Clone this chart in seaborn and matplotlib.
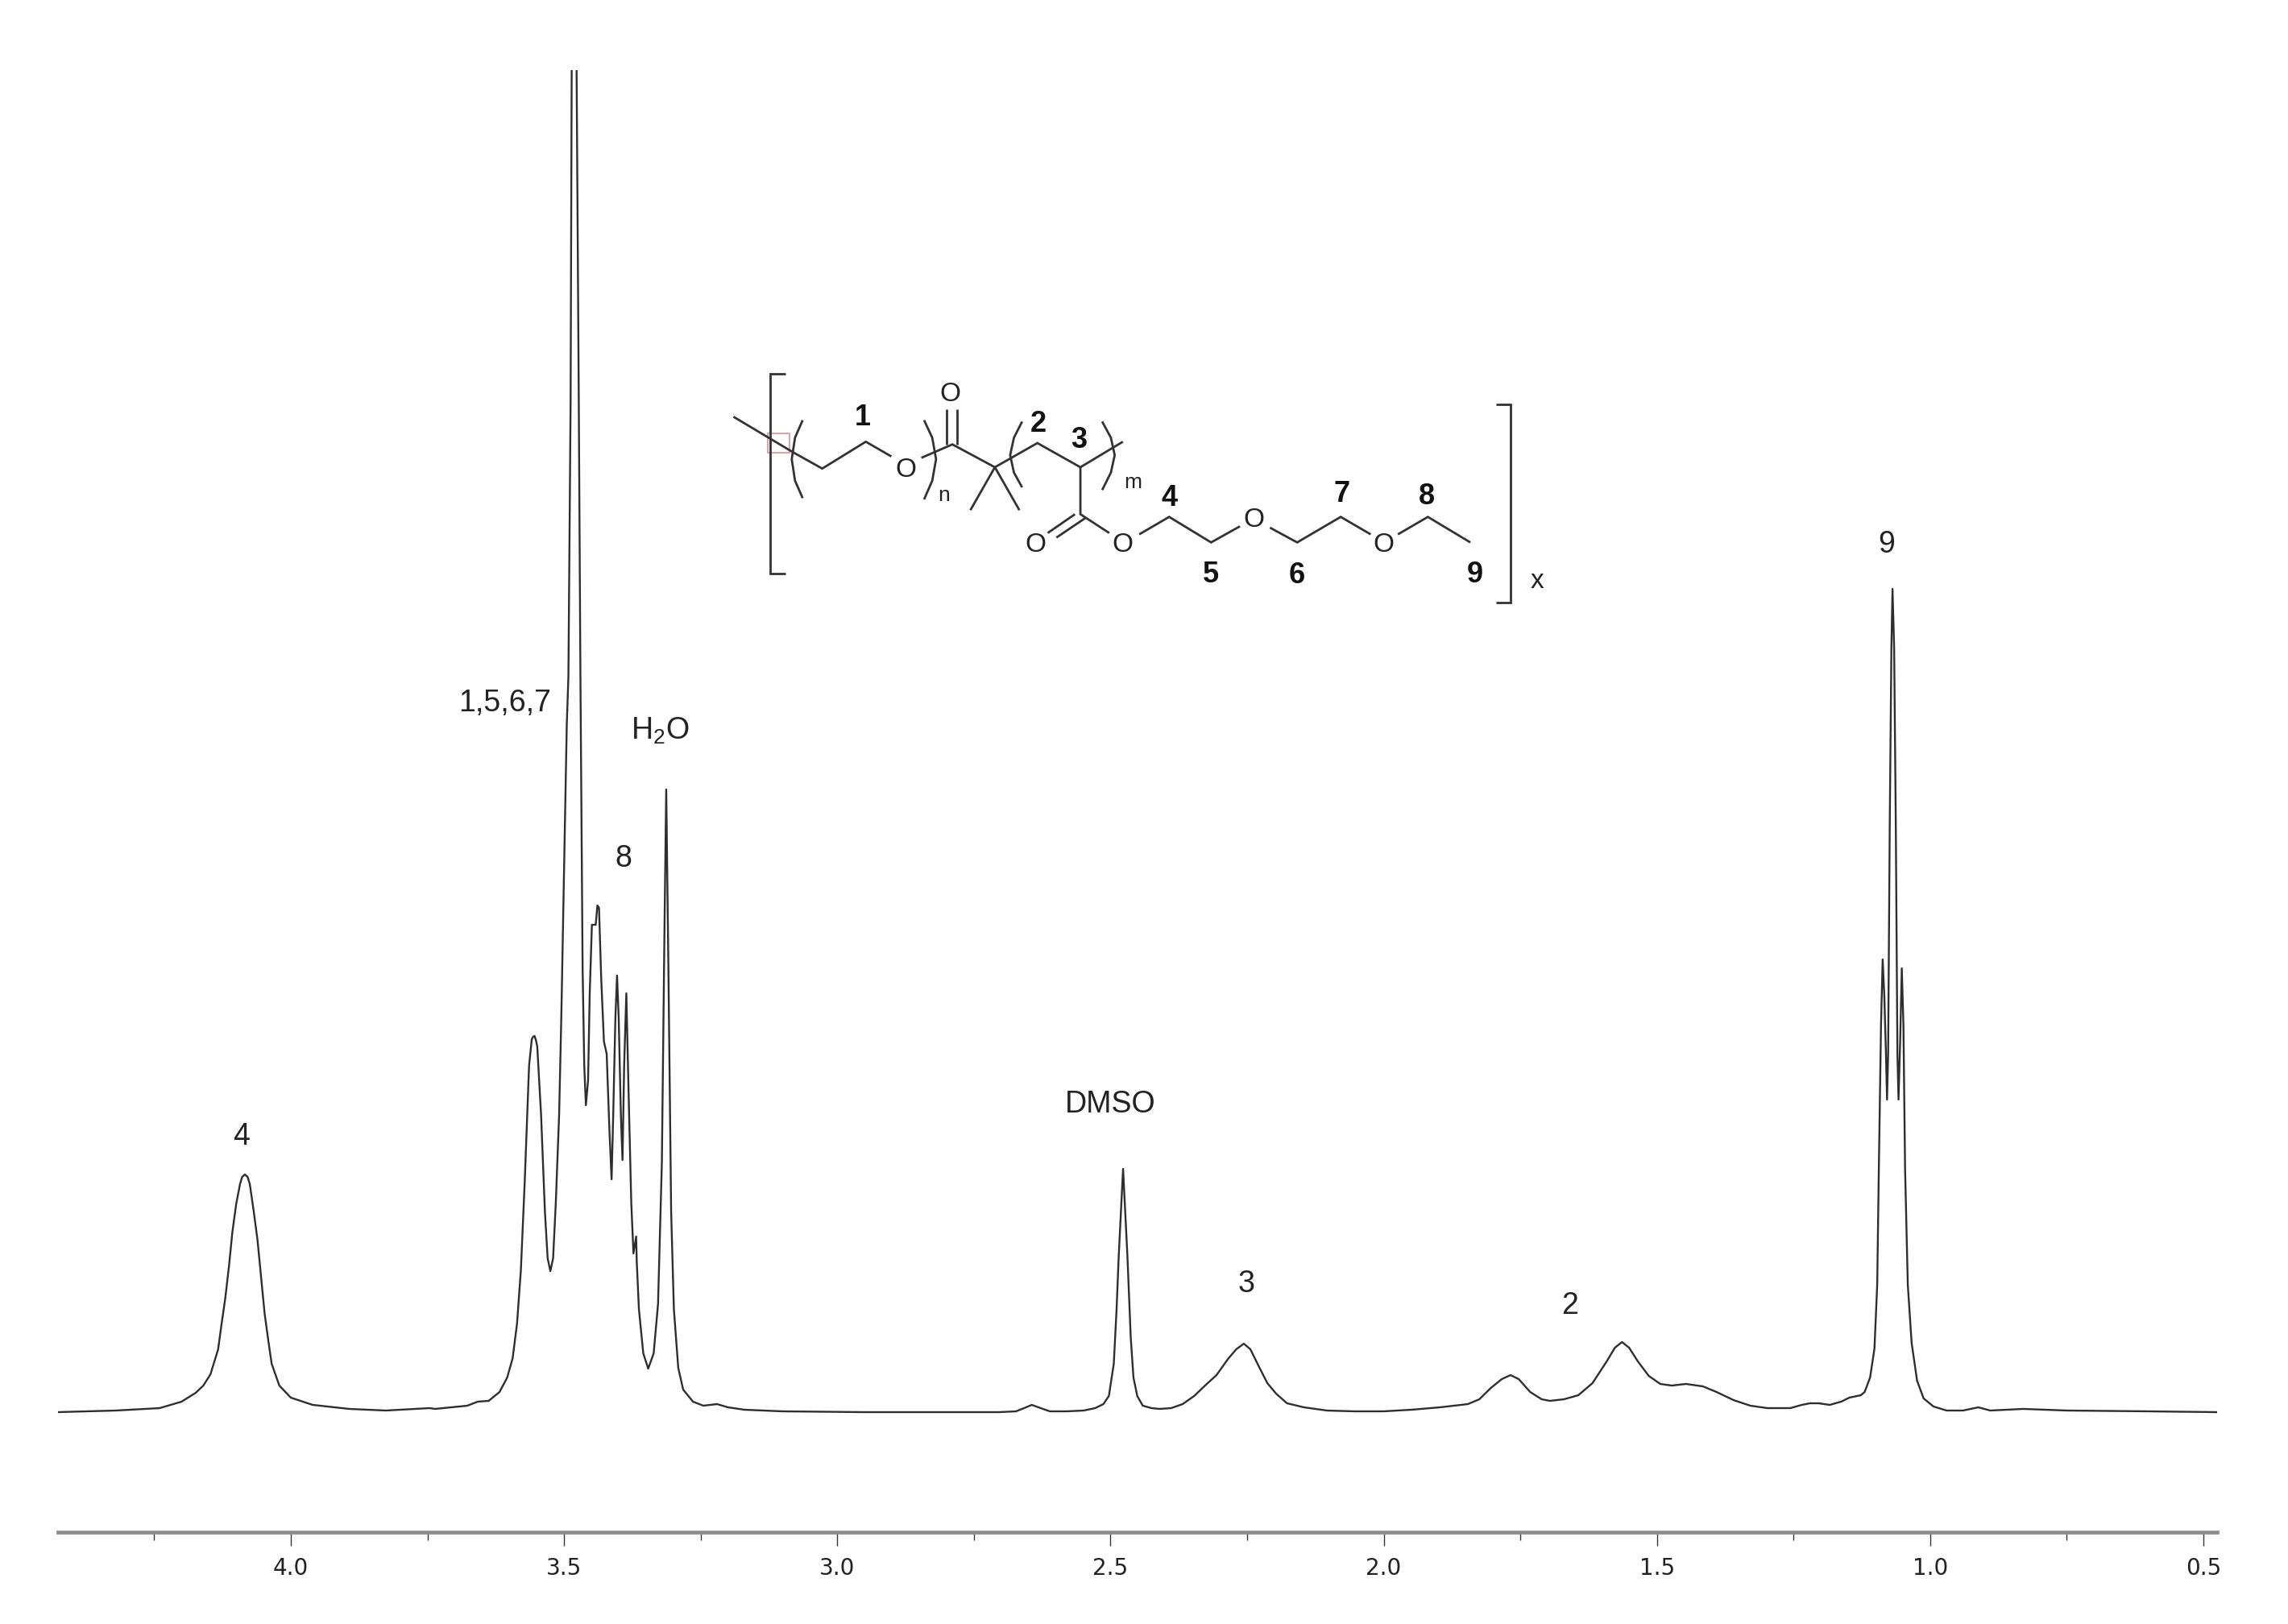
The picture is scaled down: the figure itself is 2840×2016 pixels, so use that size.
import pandas as pd
import matplotlib
matplotlib.use("Agg")
import matplotlib.pyplot as plt
import seaborn as sns
from matplotlib.patches import Rectangle
from matplotlib.ticker import FixedLocator, FixedFormatter

# chemical shift (ppm) and intensity
ppm_left = [4.427, 4.320, 4.240, 4.200, 4.174, 4.160, 4.147, 4.133, 4.127, 4.120, 4.113, 4.107, 4.100,
            4.093, 4.089, 4.084, 4.079, 4.075, 4.068, 4.061, 4.054, 4.048, 4.041, 4.035, 4.021,
            4.000, 3.960, 3.893, 3.826, 3.746]
int_left = [0, 2, 5, 13, 24, 33, 47, 78, 108, 141, 182, 223, 258,
            283, 292, 295, 292, 283, 250, 214, 165, 123, 88, 60, 33,
            18, 9, 4, 2, 5]

ppm_mid = [3.736, 3.707, 3.677, 3.658, 3.638, 3.618, 3.604, 3.594, 3.586, 3.579, 3.572, 3.564,
           3.559, 3.5565, 3.554, 3.5515, 3.549, 3.542, 3.535, 3.530, 3.525, 3.520, 3.515, 3.509,
           3.505, 3.500, 3.495, 3.492, 3.488, 3.486, 3.481, 3.477, 3.473, 3.470, 3.468, 3.466,
           3.463, 3.460, 3.456, 3.453, 3.449, 3.442, 3.439, 3.436, 3.432, 3.427, 3.422, 3.417,
           3.413, 3.410, 3.406, 3.403, 3.400, 3.396, 3.393, 3.390, 3.386, 3.382, 3.377, 3.373,
           3.368, 3.367, 3.363, 3.355, 3.346, 3.336, 3.328, 3.321, 3.316, 3.313, 3.309, 3.304,
           3.299, 3.291, 3.282, 3.264, 3.245, 3.220, 3.200, 3.170, 3.100, 2.950, 2.800]
int_mid = [4, 6, 8, 13, 14, 25, 43, 67, 110, 176, 285, 430,
           463, 466, 467, 462, 454, 369, 249, 191, 175, 191, 261, 369,
           490, 671, 853, 913, 1253, 1666, 2300, 1666, 1253, 913, 732, 551,
           430, 381, 412, 520, 605, 605, 629, 626, 539, 460, 445, 351,
           289, 369, 490, 542, 490, 369, 313, 430, 520, 400, 261, 197,
           218, 188, 128, 73, 54, 73, 134, 309, 611, 773, 551, 249,
           128, 55, 28, 13, 8, 10, 6, 3, 1, 0, 0]

ppm_right = [2.704, 2.673, 2.658, 2.644, 2.632, 2.611, 2.580, 2.549, 2.528, 2.513, 2.503, 2.494,
             2.489, 2.485, 2.477, 2.469, 2.463, 2.458, 2.451, 2.441, 2.425, 2.410, 2.389, 2.368,
             2.347, 2.327, 2.306, 2.285, 2.270, 2.256, 2.244, 2.228, 2.213, 2.197, 2.177, 2.146,
             2.104, 2.053, 2.001, 1.949, 1.897, 1.846, 1.825, 1.804, 1.784, 1.768, 1.753, 1.732,
             1.711, 1.696, 1.670, 1.644, 1.618, 1.592, 1.577, 1.564, 1.551, 1.535, 1.515, 1.494,
             1.473, 1.447, 1.416, 1.391, 1.360, 1.329, 1.298, 1.256, 1.235, 1.220, 1.204, 1.184,
             1.163, 1.148, 1.127]
int_right = [0, 1, 5, 9, 6, 1, 1, 2, 5, 10, 20, 60,
             126, 193, 302, 193, 93, 43, 20, 8, 5, 4, 5, 10,
             20, 33, 46, 66, 78, 85, 78, 56, 36, 23, 11, 6,
             2, 1, 1, 3, 6, 10, 16, 30, 41, 46, 41, 25,
             16, 14, 16, 21, 36, 63, 80, 87, 80, 63, 45, 35,
             33, 35, 32, 25, 15, 8, 5, 5, 9, 11, 11, 9,
             13, 18, 21]

ppm_triplet = [1.120, 1.110, 1.102, 1.097, 1.094, 1.090, 1.087, 1.084, 1.081, 1.079, 1.077, 1.074,
               1.071, 1.069, 1.066, 1.063, 1.060, 1.058, 1.055, 1.052, 1.049, 1.046, 1.041, 1.034,
               1.024, 1.012, 0.994, 0.970, 0.940, 0.912, 0.890, 0.830, 0.750, 0.600, 0.475]
int_triplet = [25, 43, 79, 158, 302, 481, 562, 517, 445, 388, 445, 733,
               949, 1022, 949, 733, 445, 388, 460, 551, 481, 302, 158, 86,
               39, 17, 7, 2, 2, 6, 2, 4, 2, 1, 0]

major_ticks = [4.0, 3.5, 3.0, 2.5, 2.0, 1.5, 1.0, 0.5]
major_labels = ["4.0", "3.5", "3.0", "2.5", "2.0", "1.5", "1.0", "0.5"]
minor_ticks = [4.25, 3.75, 3.25, 2.75, 2.25, 1.75, 1.25, 0.75]

peak_labels = ["4", "1,5,6,7", "H$_2$O", "8", "DMSO", "3", "2", "9"]
peak_label_x = [4.091, 3.608, 3.325, 3.391, 2.500, 2.251, 1.659, 1.080]
peak_label_y = [342, 880, 846, 687, 382, 159, 132, 1077]

spectrum = pd.DataFrame({
    "ppm": ppm_left + ppm_mid + ppm_right + ppm_triplet,
    "intensity": int_left + int_mid + int_right + int_triplet,
})

sns.set_style("white")
plt.rcParams["font.family"] = ["Liberation Sans", "DejaVu Sans"]
plt.rcParams["mathtext.default"] = "regular"

W, H = 2840, 2016
fig = plt.figure(figsize=(W / 200, H / 200), dpi=200)
ax = fig.add_axes([72 / W, 1 - 1902 / H, (2752 - 72) / W, (1902 - 87) / H])

sns.lineplot(data=spectrum, x="ppm", y="intensity", sort=False, estimator=None,
             color="#2e2e2e", linewidth=0.85, ax=ax)
ax.set_xlim(4.426, 0.475)
ax.set_ylim(-149, 1666)
ax.set_xlabel("")
ax.set_ylabel("")
ax.set_yticks([])

for side in ["top", "left", "right"]:
    ax.spines[side].set_visible(False)
ax.spines["bottom"].set_color("#8c8c8c")
ax.spines["bottom"].set_linewidth(1.7)

ax.xaxis.set_major_locator(FixedLocator(major_ticks))
ax.xaxis.set_major_formatter(FixedFormatter(major_labels))
ax.xaxis.set_minor_locator(FixedLocator(minor_ticks))
ax.tick_params(axis="x", which="major", bottom=True, length=6, width=0.5, color="#333333", pad=5)
ax.tick_params(axis="x", which="minor", bottom=True, length=3.5, width=0.5, color="#333333")
for lab in ax.get_xticklabels():
    lab.set_family("DejaVu Sans")
    lab.set_fontsize(10)
    lab.set_color("#222222")

for t, x, y in zip(peak_labels, peak_label_x, peak_label_y):
    ax.text(x, y, t, ha="center", va="center", fontsize=13.5, color="#222222")

# structure drawn inside its own little axes, coordinates follow the crop of the picture
mol = fig.add_axes([880 / W, 1 - 780 / H, 1060 / W, 340 / H])
mol.set_xlim(0, 1568)
mol.set_ylim(1020, 0)
mol.axis("off")
mol.patch.set_alpha(0)

bonds = [
    [(45, 232), (155, 365), (208, 425), (288, 325), (335, 380)],
    [(390, 385), (447, 335), (525, 420), (603, 330), (682, 420), (760, 325)],
    [(525, 420), (480, 580)],
    [(525, 420), (570, 580)],
    [(682, 420), (682, 595), (735, 665)],
    [(790, 670), (845, 605), (922, 700), (975, 640)],
    [(1030, 645), (1080, 700), (1160, 605), (1215, 670)],
    [(1265, 670), (1320, 605), (1398, 700)],
    [(437, 335), (437, 205)],
    [(455, 335), (455, 205)],
    [(672, 595), (622, 665)],
    [(692, 608), (638, 682)],
    [(140, 72), (112, 72), (112, 815), (140, 815)],
    [(1445, 185), (1472, 185), (1472, 925), (1445, 925)],
    [(172, 245), (158, 310), (152, 390), (158, 470), (172, 535)],
    [(395, 245), (410, 310), (417, 390), (410, 470), (395, 540)],
    [(575, 250), (560, 310), (553, 375), (560, 440), (575, 495)],
    [(722, 250), (738, 310), (745, 375), (738, 440), (722, 505)],
]
for b in bonds:
    mol.plot([p[0] for p in b], [p[1] for p in b], color="#333333", linewidth=1.0,
             solid_joinstyle="miter", solid_capstyle="butt")
mol.add_patch(Rectangle((108, 295), 40, 70, fill=False, edgecolor="#e0a0a8", linewidth=0.7))

for x, y in [(362, 430), (443, 150), (600, 710), (760, 710), (1000, 615), (1238, 710)]:
    mol.text(x, y, "O", ha="center", va="center", fontsize=12, color="#222222")
for t, x, y in [("1", 282, 235), ("2", 605, 260), ("3", 680, 320), ("4", 845, 535), ("5", 922, 820),
                ("6", 1080, 825), ("7", 1162, 520), ("8", 1318, 530), ("9", 1407, 820)]:
    mol.text(x, y, t, ha="center", va="center", fontsize=13, fontweight="bold", color="#111111")
mol.text(432, 525, "n", ha="center", va="center", fontsize=9.5, color="#222222")
mol.text(778, 478, "m", ha="center", va="center", fontsize=9.5, color="#222222")
mol.text(1520, 845, "x", ha="center", va="center", fontsize=12, color="#222222")

fig.savefig("out.png", dpi=200, facecolor="white")
